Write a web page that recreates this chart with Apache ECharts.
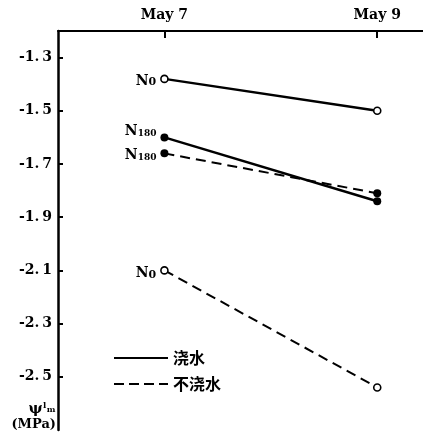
<!DOCTYPE html>
<html>
<head>
<meta charset="utf-8">
<script src="https://cdn.jsdelivr.net/npm/echarts@6/dist/echarts.min.js"></script>
<style>
html,body{margin:0;padding:0;background:#fff;}
#chart{width:423px;height:438px;}
</style>
</head>
<body>
<div id="chart"></div>
<script>
// Data
const days = [7, 9];
const dateLabels = ['May 7', 'May 9'];
const yTicks = [-2.5, -2.3, -2.1, -1.9, -1.7, -1.5, -1.3];
const wateredN0 = [-1.38, -1.50];
const wateredN180 = [-1.60, -1.84];
const dryN180 = [-1.66, -1.81];
const dryN0 = [-2.10, -2.54];
const legendNames = ['浇水', '不浇水'];
const seriesBase = ['N', 'N', 'N', 'N'];
const seriesSub = ['0', '180', '180', '0'];

const serif = '"DejaVu Serif", "Liberation Serif", serif';
const cjk = '"Noto Sans CJK SC", sans-serif';

function pts(vals) { return days.map((d, i) => [d, vals[i]]); }

function mkSeries(name, vals, dashed, open, base, sub, labelOffset) {
  return {
    name: name,
    type: 'line',
    data: pts(vals),
    symbol: 'circle',
    symbolSize: open ? 7 : 8,
    lineStyle: { color: '#000', width: dashed ? 2 : 2.5, type: dashed ? [10, 6] : 'solid' },
    itemStyle: { color: open ? '#fff' : '#000', borderColor: '#000', borderWidth: open ? 1.6 : 0 },
    label: {
      show: true,
      position: 'left',
      distance: 4,
      offset: labelOffset,
      formatter: p => p.dataIndex === 0 ? '{n|' + base + '}{s|' + sub + '}' : '',
      rich: {
        n: { fontFamily: serif, fontWeight: 'bold', fontSize: 14, lineHeight: 18, verticalAlign: 'bottom', color: '#000' },
        s: { fontFamily: serif, fontWeight: 'bold', fontSize: sub === '0' ? 11 : 9, lineHeight: sub === '0' ? 13 : 9, verticalAlign: 'bottom', color: '#000' }
      }
    },
    emphasis: { disabled: true },
    animation: false
  };
}

const chart = echarts.init(document.getElementById('chart'), null, { renderer: 'canvas' });
chart.setOption({
  backgroundColor: '#fff',
  animation: false,
  grid: { left: 58, right: 0, top: 31, bottom: 8 },
  xAxis: {
    type: 'value',
    position: 'top',
    min: 6,
    max: 9.43,
    splitLine: { show: false },
    axisLine: { show: true, onZero: false, lineStyle: { color: '#000', width: 2 } },
    axisTick: { show: true, inside: true, length: 7, lineStyle: { color: '#000', width: 2 }, customValues: days },
    axisLabel: {
      customValues: days,
      formatter: v => dateLabels[days.indexOf(v)] || '',
      margin: 9,
      fontFamily: serif,
      fontWeight: 'bold',
      fontSize: 14,
      color: '#000'
    }
  },
  yAxis: {
    type: 'value',
    min: -2.7,
    max: -1.2,
    splitLine: { show: false },
    axisLine: { show: true, onZero: false, lineStyle: { color: '#000', width: 2.5 } },
    axisTick: { show: true, inside: true, length: 5, lineStyle: { color: '#000', width: 2 }, customValues: yTicks },
    axisLabel: {
      customValues: yTicks,
      formatter: v => v.toFixed(1).replace('.', '.\u2009'),
      margin: 6,
      fontFamily: serif,
      fontWeight: 'bold',
      fontSize: 14,
      color: '#000'
    },
    name: '{p|ψ}{s|ˡₘ}\n{u|(MPa)}',
    nameLocation: 'start',
    nameGap: 2,
    nameTextStyle: {
      align: 'right',
      verticalAlign: 'bottom',
      color: '#000',
      padding: [0, 2, 0, 0],
      rich: {
        p: { fontFamily: serif, fontWeight: 'bold', fontSize: 15, lineHeight: 16, color: '#000' },
        s: { fontFamily: serif, fontWeight: 'bold', fontSize: 13, lineHeight: 16, color: '#000' },
        u: { fontFamily: serif, fontWeight: 'bold', fontSize: 13, lineHeight: 15, color: '#000' }
      }
    }
  },
  legend: {
    left: 109,
    top: 345,
    orient: 'vertical',
    itemWidth: 54,
    itemHeight: 2,
    itemGap: 10,
    selectedMode: false,
    textStyle: { fontFamily: cjk, fontWeight: 'bold', fontSize: 16, lineHeight: 16, color: '#000' },
    data: [
      { name: legendNames[0], icon: 'path://M0,0h54v2h-54z' },
      { name: legendNames[1], icon: 'path://M0,0h10v2h-10z M15,0h10v2h-10z M30,0h10v2h-10z M45,0h9v2h-9z' }
    ],
    itemStyle: { color: '#000', borderWidth: 0 },
    lineStyle: { width: 0 }
  },
  series: [
    mkSeries(legendNames[0], wateredN0, false, true, seriesBase[0], seriesSub[0], [0, 0]),
    mkSeries(legendNames[0], wateredN180, false, false, seriesBase[1], seriesSub[1], [0, -8]),
    mkSeries(legendNames[1], dryN180, true, false, seriesBase[2], seriesSub[2], [0, 0]),
    mkSeries(legendNames[1], dryN0, true, true, seriesBase[3], seriesSub[3], [0, 1])
  ]
});
</script>
</body>
</html>
